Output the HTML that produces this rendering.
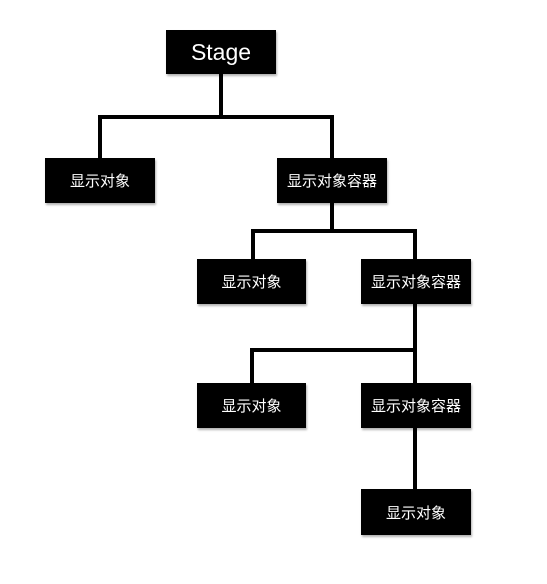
<!DOCTYPE html>
<html><head><meta charset="utf-8"><style>
body{margin:0;width:547px;height:584px;background:#fff;position:relative;overflow:hidden;font-family:"Liberation Sans","Noto Sans CJK SC",sans-serif}
.b{position:absolute;background:#000;color:#fff;display:flex;align-items:center;justify-content:center;font-size:15px;box-shadow:1px 2px 2px rgba(0,0,0,.3)}
.l{position:absolute;background:#000}
</style></head><body>
<div class="l" style="left:219px;top:74px;width:4px;height:45px"></div>
<div class="l" style="left:98px;top:115px;width:236px;height:4px"></div>
<div class="l" style="left:98px;top:115px;width:4px;height:44px"></div>
<div class="l" style="left:330px;top:115px;width:4px;height:44px"></div>
<div class="l" style="left:330px;top:203px;width:4px;height:30px"></div>
<div class="l" style="left:251px;top:229px;width:166px;height:4px"></div>
<div class="l" style="left:251px;top:229px;width:4px;height:31px"></div>
<div class="l" style="left:413px;top:229px;width:4px;height:31px"></div>
<div class="l" style="left:413px;top:304px;width:4px;height:80px"></div>
<div class="l" style="left:250px;top:348px;width:167px;height:4px"></div>
<div class="l" style="left:250px;top:348px;width:4px;height:36px"></div>
<div class="l" style="left:413px;top:428px;width:4px;height:62px"></div>
<div class="b" style="left:166px;top:30px;width:110px;height:44px;font-size:23px">Stage</div>
<div class="b" style="left:45px;top:158px;width:110px;height:45px">显示对象</div>
<div class="b" style="left:277px;top:158px;width:110px;height:45px">显示对象容器</div>
<div class="b" style="left:197px;top:259px;width:109px;height:45px">显示对象</div>
<div class="b" style="left:361px;top:259px;width:110px;height:45px">显示对象容器</div>
<div class="b" style="left:197px;top:383px;width:109px;height:45px">显示对象</div>
<div class="b" style="left:361px;top:383px;width:110px;height:45px">显示对象容器</div>
<div class="b" style="left:361px;top:489px;width:110px;height:46px">显示对象</div>
</body></html>
